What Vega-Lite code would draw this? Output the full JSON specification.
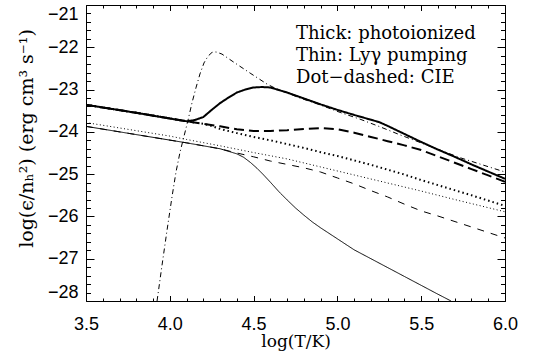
{
  "$schema": "https://vega.github.io/schema/vega-lite/v6.json",
  "width": 419,
  "height": 296,
  "autosize": {"type": "none"},
  "padding": {"left": 86, "top": 5, "right": 29, "bottom": 55},
  "background": "white",
  "config": {
    "view": {"stroke": null},
    "axis": {
      "grid": false,
      "domainColor": "black",
      "tickColor": "black",
      "labelColor": "black",
      "titleColor": "black",
      "labelFont": "Liberation Sans",
      "labelFontSize": 18,
      "titleFont": "DejaVu Serif",
      "titleFontSize": 17,
      "titleFontWeight": "normal",
      "domainWidth": 1,
      "tickWidth": 1,
      "ticks": true,
      "labelOverlap": false,
      "labelBound": false
    }
  },
  "datasets": {
    "curves": [
      {"s": "thick_solid", "x": 3.5, "y": -23.36},
      {"s": "thick_solid", "x": 3.8, "y": -23.55},
      {"s": "thick_solid", "x": 4.1, "y": -23.75},
      {"s": "thick_solid", "x": 4.15, "y": -23.72},
      {"s": "thick_solid", "x": 4.2, "y": -23.65},
      {"s": "thick_solid", "x": 4.25, "y": -23.48},
      {"s": "thick_solid", "x": 4.3, "y": -23.32},
      {"s": "thick_solid", "x": 4.35, "y": -23.19},
      {"s": "thick_solid", "x": 4.4, "y": -23.07},
      {"s": "thick_solid", "x": 4.45, "y": -23.0},
      {"s": "thick_solid", "x": 4.5, "y": -22.95},
      {"s": "thick_solid", "x": 4.55, "y": -22.94},
      {"s": "thick_solid", "x": 4.6, "y": -22.95},
      {"s": "thick_solid", "x": 4.65, "y": -23.01},
      {"s": "thick_solid", "x": 4.7, "y": -23.07},
      {"s": "thick_solid", "x": 4.8, "y": -23.21},
      {"s": "thick_solid", "x": 4.9, "y": -23.35},
      {"s": "thick_solid", "x": 5.0, "y": -23.48},
      {"s": "thick_solid", "x": 5.1, "y": -23.6},
      {"s": "thick_solid", "x": 5.25, "y": -23.77},
      {"s": "thick_solid", "x": 5.3, "y": -23.86},
      {"s": "thick_solid", "x": 5.4, "y": -24.05},
      {"s": "thick_solid", "x": 5.5, "y": -24.24},
      {"s": "thick_solid", "x": 5.6, "y": -24.42},
      {"s": "thick_solid", "x": 5.7, "y": -24.59},
      {"s": "thick_solid", "x": 5.8, "y": -24.77},
      {"s": "thick_solid", "x": 5.9, "y": -24.94},
      {"s": "thick_solid", "x": 6.0, "y": -25.11},

      {"s": "thick_dashed", "x": 3.5, "y": -23.36},
      {"s": "thick_dashed", "x": 3.8, "y": -23.55},
      {"s": "thick_dashed", "x": 4.1, "y": -23.75},
      {"s": "thick_dashed", "x": 4.2, "y": -23.81},
      {"s": "thick_dashed", "x": 4.3, "y": -23.87},
      {"s": "thick_dashed", "x": 4.4, "y": -23.94},
      {"s": "thick_dashed", "x": 4.5, "y": -23.98},
      {"s": "thick_dashed", "x": 4.6, "y": -23.98},
      {"s": "thick_dashed", "x": 4.7, "y": -23.96},
      {"s": "thick_dashed", "x": 4.8, "y": -23.93},
      {"s": "thick_dashed", "x": 4.9, "y": -23.91},
      {"s": "thick_dashed", "x": 5.0, "y": -23.94},
      {"s": "thick_dashed", "x": 5.1, "y": -24.02},
      {"s": "thick_dashed", "x": 5.2, "y": -24.12},
      {"s": "thick_dashed", "x": 5.3, "y": -24.22},
      {"s": "thick_dashed", "x": 5.4, "y": -24.32},
      {"s": "thick_dashed", "x": 5.5, "y": -24.43},
      {"s": "thick_dashed", "x": 5.6, "y": -24.58},
      {"s": "thick_dashed", "x": 5.7, "y": -24.73},
      {"s": "thick_dashed", "x": 5.8, "y": -24.88},
      {"s": "thick_dashed", "x": 5.9, "y": -25.03},
      {"s": "thick_dashed", "x": 6.0, "y": -25.18},

      {"s": "thick_dotted", "x": 3.5, "y": -23.36},
      {"s": "thick_dotted", "x": 3.8, "y": -23.55},
      {"s": "thick_dotted", "x": 4.1, "y": -23.75},
      {"s": "thick_dotted", "x": 4.2, "y": -23.81},
      {"s": "thick_dotted", "x": 4.25, "y": -23.86},
      {"s": "thick_dotted", "x": 4.3, "y": -23.93},
      {"s": "thick_dotted", "x": 4.4, "y": -24.03},
      {"s": "thick_dotted", "x": 4.5, "y": -24.12},
      {"s": "thick_dotted", "x": 4.6, "y": -24.2},
      {"s": "thick_dotted", "x": 4.7, "y": -24.29},
      {"s": "thick_dotted", "x": 4.8, "y": -24.38},
      {"s": "thick_dotted", "x": 4.9, "y": -24.48},
      {"s": "thick_dotted", "x": 5.0, "y": -24.57},
      {"s": "thick_dotted", "x": 5.2, "y": -24.78},
      {"s": "thick_dotted", "x": 5.4, "y": -25.01},
      {"s": "thick_dotted", "x": 5.5, "y": -25.14},
      {"s": "thick_dotted", "x": 5.6, "y": -25.26},
      {"s": "thick_dotted", "x": 5.8, "y": -25.5},
      {"s": "thick_dotted", "x": 6.0, "y": -25.75},

      {"s": "thin_dotted", "x": 3.5, "y": -23.78},
      {"s": "thin_dotted", "x": 4.0, "y": -24.1},
      {"s": "thin_dotted", "x": 4.1, "y": -24.18},
      {"s": "thin_dotted", "x": 4.3, "y": -24.33},
      {"s": "thin_dotted", "x": 4.5, "y": -24.49},
      {"s": "thin_dotted", "x": 4.7, "y": -24.64},
      {"s": "thin_dotted", "x": 4.9, "y": -24.83},
      {"s": "thin_dotted", "x": 5.1, "y": -25.02},
      {"s": "thin_dotted", "x": 5.3, "y": -25.21},
      {"s": "thin_dotted", "x": 5.5, "y": -25.4},
      {"s": "thin_dotted", "x": 5.7, "y": -25.6},
      {"s": "thin_dotted", "x": 6.0, "y": -25.89},

      {"s": "thin_dashed", "x": 3.5, "y": -23.87},
      {"s": "thin_dashed", "x": 4.1, "y": -24.26},
      {"s": "thin_dashed", "x": 4.3, "y": -24.4},
      {"s": "thin_dashed", "x": 4.4, "y": -24.5},
      {"s": "thin_dashed", "x": 4.5, "y": -24.59},
      {"s": "thin_dashed", "x": 4.6, "y": -24.69},
      {"s": "thin_dashed", "x": 4.7, "y": -24.77},
      {"s": "thin_dashed", "x": 4.8, "y": -24.85},
      {"s": "thin_dashed", "x": 4.9, "y": -24.95},
      {"s": "thin_dashed", "x": 5.0, "y": -25.09},
      {"s": "thin_dashed", "x": 5.1, "y": -25.23},
      {"s": "thin_dashed", "x": 5.2, "y": -25.39},
      {"s": "thin_dashed", "x": 5.3, "y": -25.54},
      {"s": "thin_dashed", "x": 5.4, "y": -25.71},
      {"s": "thin_dashed", "x": 5.5, "y": -25.87},
      {"s": "thin_dashed", "x": 5.6, "y": -25.99},
      {"s": "thin_dashed", "x": 5.8, "y": -26.25},
      {"s": "thin_dashed", "x": 6.0, "y": -26.51},

      {"s": "thin_solid", "x": 3.5, "y": -23.87},
      {"s": "thin_solid", "x": 4.1, "y": -24.26},
      {"s": "thin_solid", "x": 4.3, "y": -24.4},
      {"s": "thin_solid", "x": 4.4, "y": -24.52},
      {"s": "thin_solid", "x": 4.44, "y": -24.6},
      {"s": "thin_solid", "x": 4.48, "y": -24.72},
      {"s": "thin_solid", "x": 4.52, "y": -24.86},
      {"s": "thin_solid", "x": 4.56, "y": -25.02},
      {"s": "thin_solid", "x": 4.6, "y": -25.19},
      {"s": "thin_solid", "x": 4.65, "y": -25.41},
      {"s": "thin_solid", "x": 4.7, "y": -25.61},
      {"s": "thin_solid", "x": 4.75, "y": -25.8},
      {"s": "thin_solid", "x": 4.8, "y": -25.97},
      {"s": "thin_solid", "x": 4.85, "y": -26.13},
      {"s": "thin_solid", "x": 4.9, "y": -26.27},
      {"s": "thin_solid", "x": 5.0, "y": -26.53},
      {"s": "thin_solid", "x": 5.1, "y": -26.79},
      {"s": "thin_solid", "x": 5.2, "y": -27.0},
      {"s": "thin_solid", "x": 5.3, "y": -27.21},
      {"s": "thin_solid", "x": 5.4, "y": -27.42},
      {"s": "thin_solid", "x": 5.5, "y": -27.63},
      {"s": "thin_solid", "x": 5.6, "y": -27.84},
      {"s": "thin_solid", "x": 5.678, "y": -28.0},

      {"s": "cie", "x": 3.924, "y": -28.0},
      {"s": "cie", "x": 3.953, "y": -27.17},
      {"s": "cie", "x": 3.983, "y": -26.34},
      {"s": "cie", "x": 4.013, "y": -25.54},
      {"s": "cie", "x": 4.037, "y": -24.95},
      {"s": "cie", "x": 4.061, "y": -24.48},
      {"s": "cie", "x": 4.085, "y": -24.1},
      {"s": "cie", "x": 4.109, "y": -23.72},
      {"s": "cie", "x": 4.132, "y": -23.32},
      {"s": "cie", "x": 4.156, "y": -22.96},
      {"s": "cie", "x": 4.18, "y": -22.63},
      {"s": "cie", "x": 4.204, "y": -22.37},
      {"s": "cie", "x": 4.228, "y": -22.21},
      {"s": "cie", "x": 4.252, "y": -22.12},
      {"s": "cie", "x": 4.276, "y": -22.11},
      {"s": "cie", "x": 4.311, "y": -22.16},
      {"s": "cie", "x": 4.377, "y": -22.34},
      {"s": "cie", "x": 4.479, "y": -22.61},
      {"s": "cie", "x": 4.58, "y": -22.87},
      {"s": "cie", "x": 4.63, "y": -22.97},
      {"s": "cie", "x": 4.687, "y": -23.06},
      {"s": "cie", "x": 4.777, "y": -23.2},
      {"s": "cie", "x": 4.896, "y": -23.36},
      {"s": "cie", "x": 5.016, "y": -23.54},
      {"s": "cie", "x": 5.135, "y": -23.7},
      {"s": "cie", "x": 5.254, "y": -23.88},
      {"s": "cie", "x": 5.373, "y": -24.07},
      {"s": "cie", "x": 5.493, "y": -24.25},
      {"s": "cie", "x": 5.731, "y": -24.61},
      {"s": "cie", "x": 6.0, "y": -24.95}
    ],
    "notes": [
      {"x": 4.753, "y": -21.8, "t": "Thick: photoionized"},
      {"x": 4.753, "y": -22.32, "t": "Thin: Lyγ pumping"},
      {"x": 4.753, "y": -22.84, "t": "Dot−dashed: CIE"}
    ]
  },
  "layer": [
    {
      "data": {"name": "curves"},
      "mark": {"type": "line", "clip": true, "color": "black"},
      "encoding": {
        "x": {
          "field": "x", "type": "quantitative",
          "scale": {"domain": [3.5, 6.0], "nice": false, "zero": false},
          "axis": {
            "orient": "bottom",
            "values": [3.5, 4.0, 4.5, 5.0, 5.5, 6.0],
            "tickSize": -5.5,
            "format": ".1f",
            "labelPadding": 19.5,
            "labelFlush": false,
            "title": "log(T/K)",
            "titleY": 45,
            "titleBaseline": "alphabetic"
          }
        },
        "y": {
          "field": "y", "type": "quantitative",
          "scale": {"domain": [-28, -21], "nice": false, "zero": false},
          "axis": {
            "orient": "left",
            "values": [-28, -27, -26, -25, -24, -23, -22, -21],
            "tickSize": -8,
            "format": "d",
            "labelPadding": 16,
            "labelFlush": true,
            "title": "log(ϵ/nₕ²) (erg cm³ s⁻¹)",
            "titleFontSize": 19,
            "titleX": -60,
            "titleY": 133,
            "titleAngle": 270,
            "titleAlign": "center",
            "titleBaseline": "middle"
          }
        },
        "strokeDash": {
          "field": "s", "type": "nominal", "legend": null,
          "scale": {
            "domain": ["thick_solid", "thick_dashed", "thick_dotted", "thin_solid", "thin_dashed", "thin_dotted", "cie"],
            "range": [[1, 0], [10, 5], [1.5, 3], [1, 0], [7, 7], [1, 2.5], [5, 3, 1, 3]]
          }
        },
        "strokeWidth": {
          "condition": {"test": "indexof(datum.s, 'thick') == 0", "value": 2},
          "value": 1
        }
      }
    },
    {
      "data": {"name": "curves"},
      "mark": {"type": "line", "opacity": 0},
      "encoding": {
        "x": {
          "field": "x", "type": "quantitative",
          "axis": {"orient": "top", "values": [3.5, 4.0, 4.5, 5.0, 5.5, 6.0], "tickSize": -5.5, "labels": false, "title": null}
        },
        "y": {
          "field": "y", "type": "quantitative",
          "axis": {"orient": "right", "values": [-28, -27, -26, -25, -24, -23, -22, -21], "tickSize": -8, "labels": false, "title": null}
        }
      }
    },
    {
      "data": {"name": "curves"},
      "mark": {"type": "line", "opacity": 0},
      "encoding": {
        "x": {
          "field": "x", "type": "quantitative",
          "axis": {"orient": "bottom", "values": [3.6,3.7,3.8,3.9,4.1,4.2,4.3,4.4,4.6,4.7,4.8,4.9,5.1,5.2,5.3,5.4,5.6,5.7,5.8,5.9], "tickSize": -3, "labels": false, "domain": false, "title": null}
        },
        "y": {
          "field": "y", "type": "quantitative",
          "axis": {"orient": "left", "values": [-27.8,-27.6,-27.4,-27.2,-26.8,-26.6,-26.4,-26.2,-25.8,-25.6,-25.4,-25.2,-24.8,-24.6,-24.4,-24.2,-23.8,-23.6,-23.4,-23.2,-22.8,-22.6,-22.4,-22.2,-21.8,-21.6,-21.4,-21.2], "tickSize": -4.5, "labels": false, "domain": false, "title": null}
        }
      }
    },
    {
      "data": {"name": "curves"},
      "mark": {"type": "line", "opacity": 0},
      "encoding": {
        "x": {
          "field": "x", "type": "quantitative",
          "axis": {"orient": "top", "values": [3.6,3.7,3.8,3.9,4.1,4.2,4.3,4.4,4.6,4.7,4.8,4.9,5.1,5.2,5.3,5.4,5.6,5.7,5.8,5.9], "tickSize": -3, "labels": false, "domain": false, "title": null}
        },
        "y": {
          "field": "y", "type": "quantitative",
          "axis": {"orient": "right", "values": [-27.8,-27.6,-27.4,-27.2,-26.8,-26.6,-26.4,-26.2,-25.8,-25.6,-25.4,-25.2,-24.8,-24.6,-24.4,-24.2,-23.8,-23.6,-23.4,-23.2,-22.8,-22.6,-22.4,-22.2,-21.8,-21.6,-21.4,-21.2], "tickSize": -4.5, "labels": false, "domain": false, "title": null}
        }
      }
    },
    {
      "data": {"name": "notes"},
      "mark": {"type": "text", "font": "DejaVu Serif", "fontSize": 18, "align": "left", "baseline": "alphabetic", "color": "black"},
      "encoding": {
        "x": {"field": "x", "type": "quantitative", "axis": null},
        "y": {"field": "y", "type": "quantitative", "axis": null},
        "text": {"field": "t"}
      }
    }
  ],
  "resolve": {"axis": {"x": "independent", "y": "independent"}}
}
